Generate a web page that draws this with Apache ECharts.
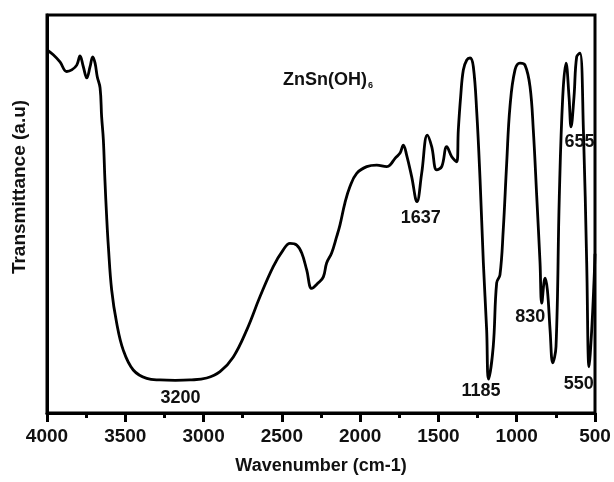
<!DOCTYPE html>
<html>
<head>
<meta charset="utf-8">
<script src="https://cdn.jsdelivr.net/npm/echarts@6/dist/echarts.min.js"></script>
<style>
  html, body { margin: 0; padding: 0; background: #fff; }
  #chart { width: 614px; height: 482px; }
</style>
</head>
<body>
<div id="chart"></div>
<script>
// FTIR spectrum of ZnSn(OH)6
const wavenumber = [4000, 3960, 3917, 3874, 3842, 3810, 3789, 3768, 3746, 3725, 3708, 3693, 3679, 3661, 3651, 3640, 3630, 3619, 3608, 3587,
  3555, 3513, 3449, 3363, 3278, 3180, 3087, 2980, 2895, 2810, 2724, 2640, 2555, 2491, 2448, 2405, 2373, 2341, 2309, 2267,
  2235, 2214, 2182, 2150, 2129, 2097, 2065, 2022, 1958, 1894, 1830, 1809, 1777, 1745, 1724, 1703, 1671, 1637, 1607, 1571,
  1543, 1511, 1479, 1447, 1415, 1383, 1373, 1358, 1341, 1319, 1298, 1277, 1255, 1234, 1213, 1192, 1180, 1150, 1128, 1107,
  1086, 1064, 1043, 1011, 979, 947, 915, 894, 872, 851, 840, 819, 804, 787, 770, 749, 728, 706, 685, 666,
  653, 634, 617, 596, 574, 553, 538, 521, 506, 500];
const transmittance = [91.2, 90.0, 88.2, 85.8, 86.2, 87.4, 89.7, 87.0, 84.2, 87.0, 89.5, 87.9, 84.5, 81.7, 74.4, 68.6, 58.5, 49.3, 41.8, 30.9,
  22.6, 15.8, 10.8, 8.7, 8.3, 8.2, 8.3, 8.8, 10.4, 14.1, 20.9, 29.2, 36.8, 41.0, 42.6, 42.2, 40.2, 35.9, 31.3, 32.7,
  34.2, 37.7, 40.2, 44.3, 47.2, 52.8, 56.9, 60.2, 61.9, 62.3, 61.9, 62.3, 64.0, 65.3, 67.3, 64.8, 59.4, 53.1, 60.2, 69.8,
  66.9, 61.1, 61.9, 66.9, 64.4, 63.1, 71.1, 79.5, 86.2, 88.7, 89.2, 87.0, 75.4, 58.5, 37.7, 20.9, 8.5, 16.7, 32.7, 34.7,
  46.0, 62.8, 77.0, 86.2, 87.9, 87.4, 82.0, 71.1, 54.3, 37.7, 27.6, 33.9, 30.9, 20.9, 12.6, 16.7, 54.3, 79.5, 87.9, 79.5,
  71.9, 79.5, 89.5, 90.4, 71.1, 37.7, 11.6, 20.9, 33.4, 40.0];

// peak annotations: text and the point (wavenumber, transmittance) where the text sits
const peakTexts = ["3200", "1637", "1185", "830", "655", "550"];
const peakAt = [[3147, 3.8], [1613, 48.9], [1228, 5.5], [913, 24.1], [599, 68.2], [604, 7.2]];
const sampleName = "ZnSn(OH)";
const sampleAt = [2205, 83.7];

const chart = echarts.init(document.getElementById("chart"));

const points = wavenumber.map((w, i) => [w, transmittance[i]]);
const FONT = "Liberation Sans";

const marks = peakTexts.map((t, i) => ({
  coord: peakAt[i],
  label: { formatter: t }
}));
marks.push({
  coord: sampleAt,
  label: {
    formatter: "{a|" + sampleName + "}{s|6}",
    rich: {
      a: { fontSize: 18, fontWeight: "bold", fontFamily: FONT, color: "#111" },
      s: { fontSize: 9, fontWeight: "bold", fontFamily: FONT, color: "#111", padding: [12, 0, 0, 1] }
    }
  }
});

const option = {
  backgroundColor: "#fff",
  animation: false,
  grid: {
    left: 47,
    right: 19,
    top: 15,
    bottom: 69,
    show: true,
    borderColor: "#000",
    borderWidth: 3
  },
  xAxis: {
    type: "value",
    min: 500,
    max: 4000,
    interval: 500,
    inverse: true,
    name: "Wavenumber (cm-1)",
    nameLocation: "middle",
    nameGap: 44,
    nameTextStyle: { fontSize: 18, fontWeight: "bold", fontFamily: FONT, color: "#111" },
    axisLine: { show: true, lineStyle: { color: "#000", width: 3 } },
    axisTick: { show: true, inside: false, length: 9, lineStyle: { color: "#000", width: 3 } },
    minorTick: { show: true, splitNumber: 2, length: 5, lineStyle: { color: "#000", width: 3 } },
    axisLabel: {
      margin: 14, fontSize: 19, fontWeight: "bold", fontFamily: FONT, color: "#111",
      formatter: v => String(v)
    },
    splitLine: { show: false }
  },
  yAxis: {
    type: "value",
    min: 0,
    max: 100,
    axisLine: { show: true, lineStyle: { color: "#000", width: 3 } },
    axisTick: { show: false },
    axisLabel: { show: false },
    splitLine: { show: false }
  },
  graphic: [{
    type: "text",
    x: 20,
    y: 187,
    rotation: Math.PI / 2,
    style: {
      text: "Transmittance (a.u)",
      fontSize: 19,
      fontWeight: "bold",
      fontFamily: FONT,
      fill: "#111",
      textAlign: "center",
      textVerticalAlign: "middle"
    }
  }],
  series: [{
    type: "line",
    data: points,
    showSymbol: false,
    smooth: 0.4,
    lineStyle: { color: "#000", width: 2.8 },
    markPoint: {
      symbol: "circle",
      symbolSize: 0,
      silent: true,
      label: {
        show: true,
        position: "inside",
        fontSize: 18,
        fontWeight: "bold",
        fontFamily: FONT,
        color: "#111"
      },
      data: marks
    }
  }]
};

chart.setOption(option);
</script>
</body>
</html>
